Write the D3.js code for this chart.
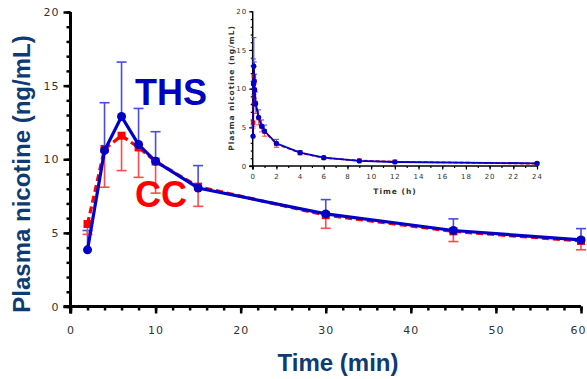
<!DOCTYPE html>
<html>
<head>
<meta charset="utf-8">
<script src="https://cdn.jsdelivr.net/npm/d3@7/dist/d3.min.js"></script>
<style>
  body { margin: 0; background: #fff; }
  svg { display: block; }
  .tick text { font-family: "DejaVu Sans", sans-serif; fill: #333; }
</style>
</head>
<body>
<script>
// main chart: first hour, minutes
var timesMin = [2, 4, 6, 8, 10, 15, 30, 45, 60];
var thsMean = [3.85, 10.6, 12.9, 11.0, 9.86, 8.05, 6.29, 5.16, 4.52];
var thsUpper = [5.16, 13.84, 16.6, 13.45, 11.87, 9.57, 7.26, 5.95, 5.29];
var ccMean = [5.6, 10.7, 11.6, 10.8, 9.85, 8.14, 6.2, 5.1, 4.45];
var ccLower = [4.9, 8.1, 9.23, 8.77, 7.7, 6.8, 5.31, 4.41, 3.85];

// inset: later samples, hours
var timesLateH = [2, 4, 6, 9, 12, 24];
var thsLate = [2.93, 1.72, 1.07, 0.65, 0.52, 0.35];
var thsLateUpper = [3.45, 2.0, 1.25, 0.8, 0.65, 0.45];
var ccLate = [2.85, 1.7, 1.05, 0.7, 0.55, 0.3];
var ccLateLower = [2.4, 1.45, 0.9, 0.6, 0.45, 0.22];

var mainYTicks = [0, 5, 10, 15, 20];
var mainXTicks = [0, 10, 20, 30, 40, 50, 60];
var insetXTicks = [0, 2, 4, 6, 8, 10, 12, 14, 16, 18, 20, 22, 24];

var width = 587, height = 379;
var BLUE = "#0000c8", RED = "#ff0000";
var BLUE_ERR = "#4a4ae6", RED_ERR = "#ff4a4a";
var NAVY = "#0d3b73";

var svg = d3.select("body").append("svg")
    .attr("width", width).attr("height", height);

function zip(xs, m, e) {
    return xs.map(function (x, i) { return {x: x, y: m[i], e: e[i]}; });
}

function drawPanel(g, x, y, ths, cc, o) {
    // error bars
    [[ths, BLUE_ERR], [cc, RED_ERR]].forEach(function (s) {
        var bars = g.append("g").selectAll("g").data(s[0]).enter().append("g")
            .attr("stroke", s[1]).attr("stroke-width", o.errW);
        bars.append("line")
            .attr("x1", function (d) { return x(d.x); })
            .attr("x2", function (d) { return x(d.x); })
            .attr("y1", function (d) { return y(d.y); })
            .attr("y2", function (d) { return y(d.e); });
        bars.append("line")
            .attr("x1", function (d) { return x(d.x) - o.cap; })
            .attr("x2", function (d) { return x(d.x) + o.cap; })
            .attr("y1", function (d) { return y(d.e); })
            .attr("y2", function (d) { return y(d.e); });
    });

    var line = d3.line()
        .x(function (d) { return x(d.x); })
        .y(function (d) { return y(d.y); });

    g.append("path").datum(cc)
        .attr("fill", "none").attr("stroke", RED)
        .attr("stroke-width", o.lineW).attr("stroke-dasharray", o.dash)
        .attr("d", line);
    g.append("g").selectAll("rect").data(cc).enter().append("rect")
        .attr("x", function (d) { return x(d.x) - o.sq / 2; })
        .attr("y", function (d) { return y(d.y) - o.sq / 2; })
        .attr("width", o.sq).attr("height", o.sq)
        .attr("fill", RED);

    g.append("path").datum(ths)
        .attr("fill", "none").attr("stroke", BLUE)
        .attr("stroke-width", o.lineW)
        .attr("d", line);
    g.append("g").selectAll("circle").data(ths).enter().append("circle")
        .attr("cx", function (d) { return x(d.x); })
        .attr("cy", function (d) { return y(d.y); })
        .attr("r", o.r)
        .attr("fill", BLUE);
}

function drawAxes(g, x, y, o) {
    var ym = g.append("g").attr("transform", "translate(" + x.range()[0] + ",0)");
    ym.call(d3.axisLeft(y).tickValues(d3.range(0, 21, 1)).tickSize(o.minor).tickFormat(""));
    ym.call(function (s) { s.selectAll(".tick line").attr("stroke-width", o.tickW); });
    var yM = g.append("g").attr("transform", "translate(" + x.range()[0] + ",0)")
        .call(d3.axisLeft(y).tickValues(mainYTicks).tickSize(o.major).tickPadding(o.pad));
    yM.selectAll(".tick line").attr("stroke-width", o.tickW);
    yM.selectAll("text").style("font-size", o.font + "px").style("letter-spacing", o.ls + "px");

    var xm = g.append("g").attr("transform", "translate(0," + y.range()[0] + ")")
        .call(d3.axisBottom(x).tickValues(o.xMinor).tickSize(o.minor).tickFormat(""));
    xm.selectAll(".tick line").attr("stroke-width", o.tickW);
    var xM = g.append("g").attr("transform", "translate(0," + y.range()[0] + ")")
        .call(d3.axisBottom(x).tickValues(o.xTicks).tickSize(o.major).tickPadding(o.xpad));
    xM.selectAll(".tick line").attr("stroke-width", o.tickW);
    xM.selectAll("text").style("font-size", o.font + "px").style("letter-spacing", o.ls + "px");
    return xM;
}

function drawFrame(g, x, y, o) {
    g.selectAll(".domain").remove();
    g.append("line")
        .attr("x1", x.range()[0]).attr("x2", x.range()[0])
        .attr("y1", y.range()[1]).attr("y2", y.range()[0] + o.major)
        .attr("stroke", "#000").attr("stroke-width", o.axisW);
    g.append("line")
        .attr("x1", x.range()[0] - o.major).attr("x2", x.range()[1])
        .attr("y1", y.range()[0]).attr("y2", y.range()[0])
        .attr("stroke", "#000").attr("stroke-width", o.axisW);
}

// ---- main panel ----
var x = d3.scaleLinear().domain([0, 60]).range([70.5, 581]);
var y = d3.scaleLinear().domain([0, 20]).range([306.5, 12]);
var main = svg.append("g");
var mainOpts = {
    minor: 4, major: 7, tickW: 2.5, axisW: 3, pad: 4, xpad: 13, font: 11, ls: 1,
    xMinor: d3.range(0, 61, 2), xTicks: mainXTicks
};
var mainX = drawAxes(main, x, y, mainOpts);
drawFrame(main, x, y, mainOpts);
// last label sits at the right edge of the page
mainX.selectAll("text").filter(function (d) { return d === 60; }).attr("dx", "-3");

drawPanel(main, x, y, zip(timesMin, thsMean, thsUpper), zip(timesMin, ccMean, ccLower),
    {errW: 1.6, cap: 5, lineW: 3.2, dash: "7,4", sq: 8, r: 4.5});

svg.append("text")
    .attr("transform", "translate(30,174) rotate(-90)")
    .attr("text-anchor", "middle")
    .style("font-family", "'Liberation Sans', Arial, sans-serif")
    .style("font-weight", "bold").style("font-size", "24px")
    .attr("fill", NAVY)
    .text("Plasma nicotine (ng/mL)");

svg.append("text")
    .attr("x", 338).attr("y", 371)
    .attr("text-anchor", "middle")
    .style("font-family", "'Liberation Sans', Arial, sans-serif")
    .style("font-weight", "bold").style("font-size", "24px")
    .attr("fill", NAVY)
    .text("Time (min)");

svg.append("text")
    .attr("x", 135).attr("y", 105)
    .style("font-family", "'Liberation Sans', Arial, sans-serif")
    .style("font-weight", "bold").style("font-size", "36px")
    .attr("fill", "#0000c0")
    .text("THS");

svg.append("text")
    .attr("x", 135).attr("y", 207)
    .style("font-family", "'Liberation Sans', Arial, sans-serif")
    .style("font-weight", "bold").style("font-size", "36px")
    .attr("fill", RED)
    .text("CC");

// ---- inset: 0-24 h ----
var xi = d3.scaleLinear().domain([0, 24]).range([252.7, 537]);
var yi = d3.scaleLinear().domain([0, 20]).range([166, 11.3]);
var inset = svg.append("g");

var hrs = timesMin.map(function (t) { return t / 60; }).concat(timesLateH);
var insetOpts = {
    minor: 2, major: 3.5, tickW: 1.2, axisW: 1.5, pad: 2, xpad: 5, font: 7, ls: 1,
    xMinor: d3.range(0, 25, 1), xTicks: insetXTicks
};
drawAxes(inset, xi, yi, insetOpts);
drawFrame(inset, xi, yi, insetOpts);
drawPanel(inset, xi, yi,
    zip(hrs, thsMean.concat(thsLate), thsUpper.concat(thsLateUpper)),
    zip(hrs, ccMean.concat(ccLate), ccLower.concat(ccLateLower)),
    {errW: 1, cap: 2.5, lineW: 1.8, dash: "4,2", sq: 4.5, r: 2.6});

svg.append("text")
    .attr("transform", "translate(234,88) rotate(-90)")
    .attr("text-anchor", "middle")
    .style("font-family", "'DejaVu Sans', sans-serif")
    .style("font-weight", "bold").style("font-size", "7.5px")
    .style("letter-spacing", "1px")
    .attr("fill", "#333")
    .text("Plasma nicotine (ng/mL)");

svg.append("text")
    .attr("x", 395).attr("y", 194)
    .attr("text-anchor", "middle")
    .style("font-family", "'DejaVu Sans', sans-serif")
    .style("font-weight", "bold").style("font-size", "7.5px")
    .style("letter-spacing", "1px")
    .attr("fill", "#333")
    .text("Time (h)");
</script>
</body>
</html>
